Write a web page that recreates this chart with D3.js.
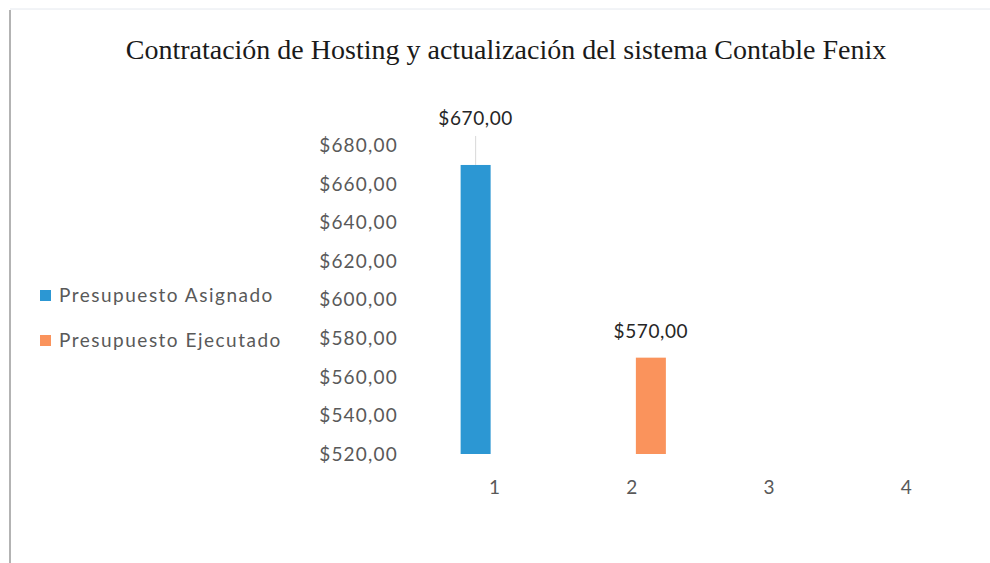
<!DOCTYPE html>
<html lang="es">
<head>
    <meta charset="UTF-8">
    <title>Contratación de Hosting</title>
    <script src="https://d3js.org/d3.v7.min.js"></script>
    <style>
        body { margin: 0; background: #fff; }
        svg { display: block; }
    </style>
</head>
<body>
    <svg id="chart"></svg>

    <script>
        // Data
        const categories = ["1", "2", "3", "4"];
        const seriesNames = ["Presupuesto Asignado", "Presupuesto Ejecutado"];
        const asignado = [670, null, null, null];
        const ejecutado = [null, 570, null, null];
        const yTicks = [520, 540, 560, 580, 600, 620, 640, 660, 680];
        const colors = ["#2c97d3", "#fa935c"];

        const width = 990, height = 563;
        const title = "Contratación de Hosting y actualización del sistema Contable Fenix";

        const svg = d3.select("#chart")
            .attr("width", width)
            .attr("height", height);

        // frame of the chart area (scan edges)
        svg.append("line")
            .attr("x1", 10).attr("x2", 10).attr("y1", 10).attr("y2", height)
            .attr("stroke", "#9a9a9a").attr("stroke-width", 1.5);
        svg.append("line")
            .attr("x1", 10).attr("x2", width).attr("y1", 9).attr("y2", 9)
            .attr("stroke", "#e4e8ee").attr("stroke-width", 1);

        // title
        svg.append("text")
            .attr("x", 506)
            .attr("y", 59)
            .attr("text-anchor", "middle")
            .style("font-family", "'Liberation Serif', serif")
            .style("font-size", "28px")
            .style("fill", "#1a1a1a")
            .text(title);

        // scales
        const x = d3.scaleBand()
            .domain(categories)
            .range([426, 975]);

        const x1 = d3.scaleBand()
            .domain(seriesNames)
            .range([-34, 34])
            .paddingInner(8 / 38);

        const y = d3.scaleLinear()
            .domain([520, 680])
            .range([454, 145.7]);

        const money = d => "$" + d3.format(".2f")(d).replace(".", ",");

        // y axis (labels only)
        const yAxis = svg.append("g")
            .attr("transform", "translate(398,0)")
            .call(d3.axisLeft(y)
                .tickValues(yTicks)
                .tickSize(0)
                .tickPadding(0)
                .tickFormat(money));
        yAxis.select(".domain").remove();
        yAxis.selectAll("text")
            .style("font-family", "Lato, sans-serif")
            .style("font-size", "19px")
            .style("letter-spacing", "1.2px")
            .style("fill", "#595959");

        // x axis (labels only)
        const xAxis = svg.append("g")
            .attr("transform", "translate(0,480)")
            .call(d3.axisBottom(x).tickSize(0).tickPadding(0));
        xAxis.select(".domain").remove();
        xAxis.selectAll("text")
            .attr("dy", "0.71em")
            .style("font-family", "Lato, sans-serif")
            .style("font-size", "19px")
            .style("fill", "#595959");

        // bars
        const rows = [];
        [asignado, ejecutado].forEach((vals, s) => {
            vals.forEach((v, i) => {
                if (v != null) rows.push({ cat: categories[i], series: seriesNames[s], value: v, color: colors[s] });
            });
        });

        svg.selectAll(".bar")
            .data(rows)
            .enter()
            .append("rect")
            .attr("class", "bar")
            .attr("x", d => x(d.cat) + x.bandwidth() / 2 + x1(d.series))
            .attr("width", x1.bandwidth())
            .attr("y", d => y(d.value))
            .attr("height", d => y(520) - y(d.value))
            .attr("fill", d => d.color);

        // data labels (the first one was dragged up, with a leader line)
        const labelLift = [35, 15];
        rows.forEach((d, i) => {
            const cx = x(d.cat) + x.bandwidth() / 2 + x1(d.series) + x1.bandwidth() / 2;
            const ly = y(d.value) - labelLift[i];
            if (labelLift[i] > 20) {
                svg.append("line")
                    .attr("x1", cx).attr("x2", cx)
                    .attr("y1", ly + 6).attr("y2", y(d.value))
                    .attr("stroke", "#d9d9d9").attr("stroke-width", 1);
            }
            svg.append("text")
                .attr("x", cx)
                .attr("y", ly - 5)
                .attr("text-anchor", "middle")
                .style("font-family", "Lato, sans-serif")
                .style("font-size", "19px")
                .style("letter-spacing", "0.6px")
                .style("fill", "#262626")
                .text(money(d.value));
        });

        // legend on the left
        const legend = svg.append("g")
            .selectAll("g")
            .data(seriesNames)
            .enter()
            .append("g")
            .attr("transform", (d, i) => `translate(40,${295 + i * 45})`);

        legend.append("rect")
            .attr("x", 0).attr("y", -5)
            .attr("width", 11).attr("height", 11)
            .attr("fill", (d, i) => colors[i]);

        legend.append("text")
            .attr("x", 19)
            .attr("dy", "0.35em")
            .style("font-family", "Lato, sans-serif")
            .style("font-size", "19px")
            .style("letter-spacing", "1.5px")
            .style("fill", "#595959")
            .text(d => d);
    </script>
</body>
</html>
